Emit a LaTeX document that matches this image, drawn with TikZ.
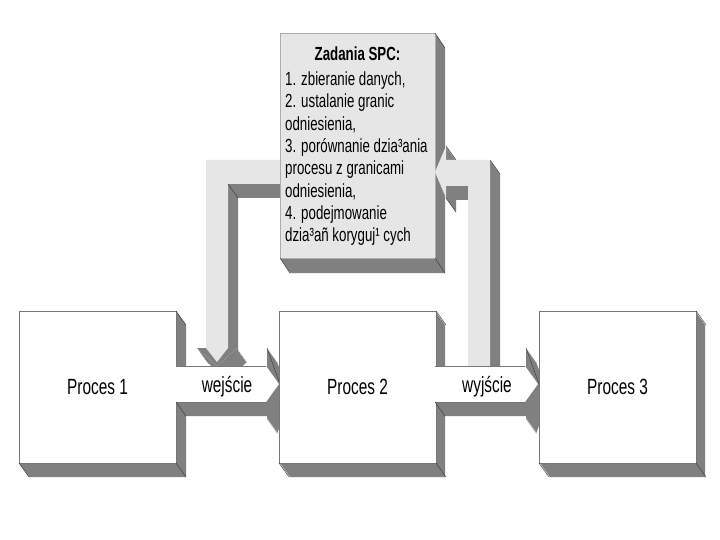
\documentclass[tikz,border=0pt]{standalone}
\usepackage{fontspec}
\newfontfamily\nfont[FakeStretch=0.7]{Liberation Sans}
\definecolor{shgray}{HTML}{808080}
\definecolor{lgray}{HTML}{E6E6E6}
\definecolor{edgegray}{HTML}{777777}
\tikzset{
  procbox/.style={draw=edgegray, line width=0.6pt, fill=white, minimum width=157, minimum height=152,
    inner sep=0pt, outer sep=0pt, font=\nfont\fontsize{22}{26}\selectfont},
  spcbox/.style={draw=edgegray!60, line width=0.5pt, fill=lgray, minimum width=155, minimum height=225,
    inner sep=0pt, outer sep=0pt},
  lbl/.style={inner sep=0pt, anchor=base, font=\nfont\fontsize{22}{26}\selectfont},
  spctxt/.style={inner sep=0pt, anchor=base west, font=\nfont\fontsize{19}{22}\selectfont},
  diagline/.style={draw=black!75, line width=0.5pt},
  edgeline/.style={draw=edgegray, line width=0.6pt}
}
\begin{document}
\begin{tikzpicture}[x=1pt,y=-1pt]
\useasboundingbox (0,0) rectangle (720,540);
\fill[white] (0,0) rectangle (720,540);

% ---------- Proces 1 ----------
\fill[shgray] (176,311) -- (186,325) -- (186,477) -- (29,477) -- (19,463) -- cycle;
\node[procbox] (p1) at (97.5,387) {Proces 1};
\draw[diagline] (p1.north east) -- ++(10,14) (p1.south east) -- ++(10,14) (p1.south west) -- ++(10,14);

% ---------- left feedback arrow ----------
\def\Lpath{(280,160) -- (206,160) -- (206,348) -- (197,348) -- (217,366) -- (237,348) -- (228,348) -- (228,184) -- (280,184) -- cycle}
\foreach \i in {1,...,20}{\fill[shgray, shift={(0.5*\i,0.7*\i)}] \Lpath;}
\fill[lgray] \Lpath;
\fill[shgray] (197,348) -- (237,348) -- (217,366) -- cycle;
\fill[lgray] (206,348) -- (228,348) -- (217,362) -- cycle;
\draw[diagline] (228,184) -- ++(10,14);

% ---------- SPC box ----------
\fill[shgray] (435,33) -- (445,48) -- (445,273) -- (290,273) -- (280,258) -- cycle;
\node[spcbox] (spc) at (357.5,145.5) {};
\draw[diagline] (spc.north east) -- ++(10,15) (spc.south east) -- ++(10,15) (spc.south west) -- ++(10,15);
\node[inner sep=0pt, anchor=base, font=\nfont\bfseries\fontsize{19}{22}\selectfont] (t0) at (357.5,61) {Zadania SPC:};
\node[spctxt] (t1) at (285,85.7) {1. zbieranie danych,};
\node[spctxt] (t2) at (285,108) {2. ustalanie granic};
\node[spctxt] (t3) at (285,130.3) {odniesienia,};
\node[spctxt] (t4) at (285,152.6) {3. porównanie dzia³ania};
\node[spctxt] (t5) at (285,174.9) {procesu z granicami};
\node[spctxt] (t6) at (285,197.2) {odniesienia,};
\node[spctxt] (t7) at (285,219.5) {4. podejmowanie};
\node[spctxt] (t8) at (285,241.8) {dzia³añ koryguj¹ cych};

% ---------- right feedback arrow ----------
\def\Rpath{(435,172) -- (446,146) -- (446,160) -- (490,160) -- (490,380) -- (468,380) -- (468,186) -- (446,186) -- (446,198) -- cycle}
\foreach \i in {1,...,20}{\fill[shgray, shift={(0.5*\i,0.7*\i)}] \Rpath;}
\fill[lgray] \Rpath;
\draw[diagline] (490,160) -- ++(10,14) (446,198) -- ++(10,14) (446,146) -- ++(10,14);

% ---------- input arrow ----------
\def\Wpath{(176,366) -- (267,366) -- (267,348) -- (280,384) -- (267,420) -- (267,402) -- (176,402) -- cycle}
\foreach \i in {1,...,20}{\fill[shgray, shift={(0.5*\i,0.7*\i)}] \Wpath;}
\fill[shgray] (267,348) -- (280,384) -- (267,420) -- cycle;
\fill[white] (176,366) -- (266,366) -- (279,384) -- (266,402) -- (176,402) -- cycle;
\draw[edgeline] (176,366) -- (266,366) (176,402) -- (266,402);
\draw[diagline] (176,402) -- ++(10,14) (267,348) -- (280,384);
\node[lbl] (win) at (227,392) {wejście};

% ---------- Proces 2 ----------
\fill[shgray] (435,311) -- (445,325) -- (445,477) -- (290,477) -- (280,463) -- cycle;
\node[procbox] (p2) at (357.5,387) {Proces 2};
\draw[diagline] (p2.north east) -- ++(10,14) (p2.south east) -- ++(10,14) (p2.south west) -- ++(10,14);

% ---------- output arrow ----------
\def\Ypath{(435,366) -- (526,366) -- (526,348) -- (539,384) -- (526,420) -- (526,402) -- (435,402) -- cycle}
\foreach \i in {1,...,20}{\fill[shgray, shift={(0.5*\i,0.7*\i)}] \Ypath;}
\fill[shgray] (526,348) -- (539,384) -- (526,420) -- cycle;
\fill[white] (435,366) -- (525,366) -- (538,384) -- (525,402) -- (435,402) -- cycle;
\draw[edgeline] (435,366) -- (525,366) (435,402) -- (525,402);
\draw[diagline] (435,402) -- ++(10,14) (526,348) -- (539,384);
\node[lbl] (wout) at (487,392) {wyjście};

% ---------- Proces 3 ----------
\fill[shgray] (695,311) -- (705,325) -- (705,477) -- (550,477) -- (540,463) -- cycle;
\node[procbox] (p3) at (617.5,387) {Proces 3};
\draw[diagline] (p3.north east) -- ++(10,14) (p3.south east) -- ++(10,14) (p3.south west) -- ++(10,14);
\end{tikzpicture}
\end{document}
